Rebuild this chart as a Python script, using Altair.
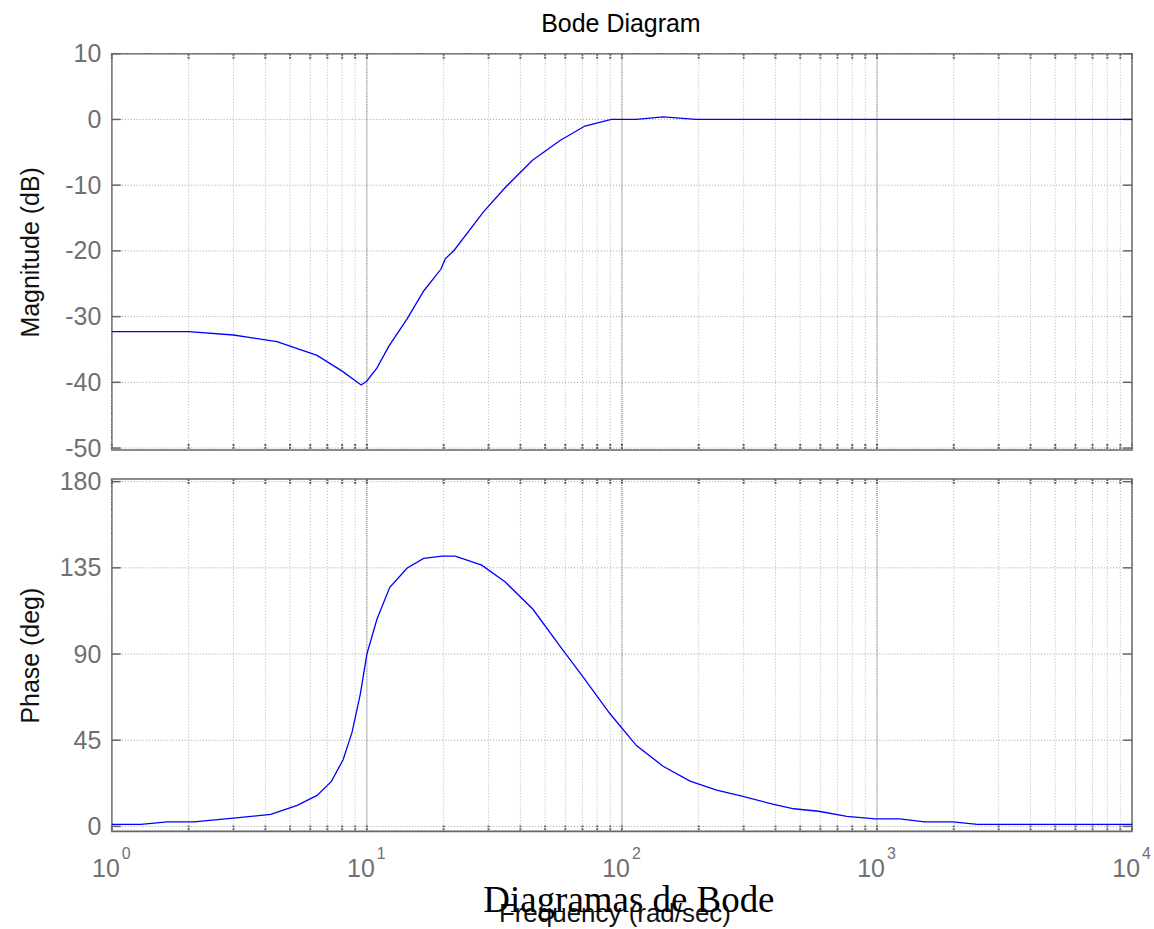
import altair as alt
import pandas as pd

# ---- data ----
mag_freq = [1, 2.0, 3.0, 3.5, 4.44, 6.38, 8.0, 9.5, 10.0, 10.96, 12.2, 14.4, 16.7, 19.5, 20.3, 22.0,
            28.6, 34.8, 44.6, 57.2, 71.6, 90.9, 114, 145, 195, 10000]
mag_db = [-32.3, -32.3, -32.8, -33.2, -33.8, -35.9, -38.3, -40.4, -39.8, -37.8, -34.5, -30.3, -26.1,
          -22.8, -21.2, -19.9, -14.1, -10.4, -6.2, -3.2, -1.0, 0.0, 0.0, 0.4, 0.0, 0.0]

ph_freq = [1, 1.3, 1.65, 2.1, 3.0, 4.2, 5.33, 6.38, 7.26, 8.07, 8.75, 9.43, 10.0, 10.96, 12.3, 14.4,
           16.7, 19.7, 22.2, 28.2, 34.8, 44.7, 58.9, 70.6, 89.8, 114, 145, 185, 235, 293, 390,
           472, 590, 762, 984, 1230, 1536, 1983, 2476, 10000]
ph_deg = [1.0, 1.0, 2.4, 2.4, 4.3, 6.3, 11.0, 16.2, 23.5, 34.8, 49.2, 69.2, 90.0, 108.3, 124.8, 134.9,
          139.9, 141.1, 141.1, 136.4, 127.7, 113.5, 91.8, 77.8, 58.8, 42.2, 31.4, 23.6, 18.9, 15.9,
          11.6, 9.2, 7.9, 5.2, 3.9, 3.9, 2.4, 2.4, 1.1, 1.1]

mag_ticks = [-50, -40, -30, -20, -10, 0, 10]
ph_ticks = [0, 45, 90, 135, 180]
grid_freqs = [1, 2, 3, 4, 5, 6, 7, 8, 9,
              10, 20, 30, 40, 50, 60, 70, 80, 90,
              100, 200, 300, 400, 500, 600, 700, 800, 900,
              1000, 2000, 3000, 4000, 5000, 6000, 7000, 8000, 9000, 10000]
decades = [1, 10, 100, 1000, 10000]
exponents = ["0", "1", "2", "3", "4"]
texts = {"title": "Bode Diagram", "mag": "Magnitude (dB)", "phase": "Phase (deg)",
         "xlabel": "Frequency  (rad/sec)", "caption": "Diagramas de Bode"}

# ---- layout ----
W = 1022
H1 = 397
H2 = 353
PAD_L, PAD_R, PAD_T, PAD_B = 111, 21, 52, 98
FONT = "Liberation Sans"
LABEL_COLOR = "#707070"

mag_df = pd.DataFrame({"f": mag_freq, "db": mag_db})
ph_df = pd.DataFrame({"f": ph_freq, "deg": ph_deg})
grid_df = pd.DataFrame({"f": grid_freqs})
dec_df = pd.DataFrame({"f": decades, "e": exponents, "base": ["10"] * len(decades)})
magt_df = pd.DataFrame({"v": mag_ticks})
pht_df = pd.DataFrame({"v": ph_ticks})
one_df = pd.DataFrame({"k": [0]})

xs = alt.Scale(type="log", domain=[1, 10000], nice=False)
ys1 = alt.Scale(domain=[-50.3, 10], nice=False, zero=False)
ys2 = alt.Scale(domain=[-2.6, 181.4], nice=False, zero=False)


def yaxis(title, values, H):
    return alt.Axis(values=values, grid=False, ticks=False, domain=False, labelFontSize=25,
                    labelColor=LABEL_COLOR, labelPadding=11, labelFont=FONT, labelOverlap=False,
                    labelFlush=False, labelExpr="toString(datum.value)",
                    title=title, titleFontSize=25, titleFont=FONT,
                    titleColor="#111111", titleFontWeight="normal", titleX=-73, titleY=H / 2,
                    titleAngle=270, titleBaseline="alphabetic", titleAlign="center")


def panel_layers(tick_df, ys, H, ax):
    vgrid = alt.Chart(grid_df).mark_rule(color="#b8b8b8", strokeDash=[1, 2], strokeWidth=1).encode(
        x=alt.X("f:Q", scale=xs, axis=None))
    dgrid = alt.Chart(dec_df).mark_rule(color="#8a8a8a", strokeDash=[1, 1], strokeWidth=1.2).encode(
        x=alt.X("f:Q", scale=xs, axis=None))
    hgrid = alt.Chart(tick_df).mark_rule(color="#a0a0a0", strokeDash=[1, 2], strokeWidth=1).encode(
        y=alt.Y("v:Q", scale=ys, axis=ax, title=ax.title))
    xt_top = alt.Chart(grid_df).mark_rule(color="#666666", strokeWidth=2, strokeDash=[2, 1]).encode(
        x=alt.X("f:Q", scale=xs, axis=None), y=alt.value(0), y2=alt.value(6))
    xt_bot = alt.Chart(grid_df).mark_rule(color="#666666", strokeWidth=2, strokeDash=[2, 1]).encode(
        x=alt.X("f:Q", scale=xs, axis=None), y=alt.value(H - 6), y2=alt.value(H))
    yt_l = alt.Chart(tick_df).mark_rule(color="#666666", strokeWidth=1.5).encode(
        y=alt.Y("v:Q", scale=ys, axis=ax, title=ax.title), x=alt.value(0), x2=alt.value(9))
    yt_r = alt.Chart(tick_df).mark_rule(color="#666666", strokeWidth=1.5).encode(
        y=alt.Y("v:Q", scale=ys, axis=ax, title=ax.title), x=alt.value(W - 9), x2=alt.value(W))
    return [vgrid, dgrid, hgrid, xt_top, xt_bot, yt_l, yt_r]


# invisible frame rules that fix the overall canvas extent
top_frame = alt.Chart(one_df).mark_rule(opacity=0, strokeWidth=0.01).encode(
    x=alt.value(-PAD_L), x2=alt.value(W + PAD_R), y=alt.value(-PAD_T))
bot_frame = alt.Chart(one_df).mark_rule(opacity=0, strokeWidth=0.01).encode(
    x=alt.value(-PAD_L), x2=alt.value(W + PAD_R), y=alt.value(H2 + PAD_B))

ax1 = yaxis(texts["mag"], mag_ticks, H1)
ax2 = yaxis(texts["phase"], ph_ticks, H2)

mag_line = alt.Chart(mag_df).mark_line(color="#0000ff", strokeWidth=1.3).encode(
    x=alt.X("f:Q", scale=xs, axis=None),
    y=alt.Y("db:Q", scale=ys1, axis=ax1, title=texts["mag"]))

title_df = pd.DataFrame({"t": [texts["title"]]})
title_txt = alt.Chart(title_df).mark_text(font=FONT, fontSize=25, color="#000000",
                                          baseline="alphabetic", align="center").encode(
    text="t:N", x=alt.value(510), y=alt.value(-22))

top = alt.layer(*panel_layers(magt_df, ys1, H1, ax1), mag_line, title_txt, top_frame
                ).properties(width=W, height=H1)

ph_line = alt.Chart(ph_df).mark_line(color="#0000ff", strokeWidth=1.3).encode(
    x=alt.X("f:Q", scale=xs, axis=None),
    y=alt.Y("deg:Q", scale=ys2, axis=ax2, title=texts["phase"]))

base_lbl = alt.Chart(dec_df).mark_text(font=FONT, fontSize=25, color=LABEL_COLOR, align="right",
                                       baseline="alphabetic", dx=8).encode(
    x=alt.X("f:Q", scale=xs, axis=None), y=alt.value(399), text="base:N")
exp_lbl = alt.Chart(dec_df).mark_text(font=FONT, fontSize=16, color=LABEL_COLOR, align="left",
                                      baseline="alphabetic", dx=10).encode(
    x=alt.X("f:Q", scale=xs, axis=None), y=alt.value(381), text="e:N")

xl_df = pd.DataFrame({"t": [texts["xlabel"]]})
xlabel_txt = alt.Chart(xl_df).mark_text(font=FONT, fontSize=26, color="#111111",
                                        baseline="alphabetic", align="center").encode(
    text="t:N", x=alt.value(504), y=alt.value(444))
cap_df = pd.DataFrame({"t": [texts["caption"]]})
cap_txt = alt.Chart(cap_df).mark_text(font="Liberation Serif", fontSize=37, color="#000000",
                                      baseline="alphabetic", align="center").encode(
    text="t:N", x=alt.value(518), y=alt.value(434))

bottom = alt.layer(*panel_layers(pht_df, ys2, H2, ax2), ph_line, base_lbl, exp_lbl, xlabel_txt,
                   cap_txt, bot_frame).properties(width=W, height=H2)

chart = alt.vconcat(top, bottom, spacing=29, bounds="flush").properties(
    padding=0,
    background="white",
).configure_view(stroke="#666666", strokeWidth=1.6)

chart.save("out.html", embed_options={"renderer": "svg", "actions": False})
